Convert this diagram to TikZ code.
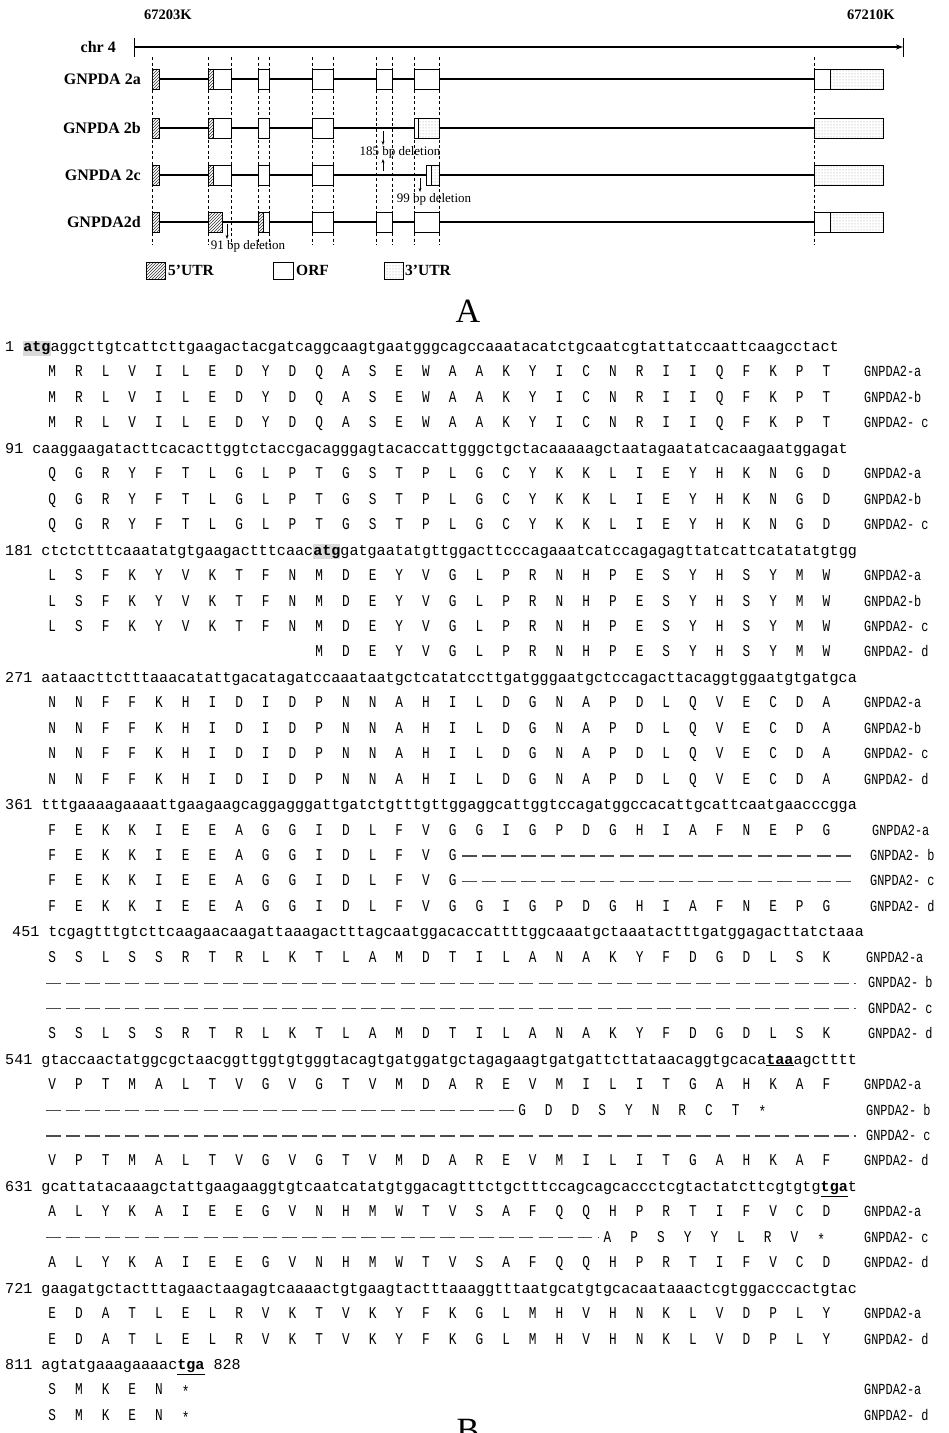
\documentclass[tikz,border=0pt]{standalone}
\usepackage{fontspec}
\setmainfont{Liberation Serif}
\newfontfamily\seqfont{Liberation Mono}
\usetikzlibrary{arrows.meta,patterns}

% grid of the amino acid columns (pt = px)
\newcommand\aapitch{26.7}
\newcommand\aazero{52}
\makeatletter
\newcommand\aastring[1]{\@tfor\aachar:=#1\do{\makebox[26.7pt]{\scalebox{0.85}[1.1]{\aachar}}}}
\makeatother
\newcommand\aastop{\raisebox{-2.5pt}{*}}
\newcommand\starthl[1]{{\setlength\fboxsep{0pt}\colorbox{gray!30}{\rule[-4pt]{0pt}{15pt}\textbf{#1}}}}
\newcommand\stopcod[1]{\underline{\textbf{#1}}}

% rows of panel B
\newcommand\ntline[4]{\node[seqline] (#1) at (#2,{351.5+25.45*#3}) {#4};}
\newcommand\aapart[4]{\node[aaline] (#1) at ({\aazero-\aapitch/2+(#3-1)*\aapitch},{351.5+25.45*#2}) {\aastring{#4}};}
\newcommand\isolabel[4]{\node[isolab] (#1) at (#4,{351.5+25.45*#2}) {\scalebox{0.85}[1.1]{#3}};}
\newcommand\aarow[6]{\aapart{#1}{#2}{#3}{#4}\isolabel{#1-lab}{#2}{#5}{#6}}
\newcommand\gaprow[6]{%
  \coordinate (#1-s) at (#3,{347+25.45*#2});
  \coordinate (#1-e) at (#4,{347+25.45*#2});
  \draw[gapline] (#1-s) -- (#1-e);
  \isolabel{#1-lab}{#2}{#5}{#6}}
% boxes of panel A
\newcommand\exbox[4]{\draw[#4] (#1,{#3-10}) rectangle (#2,{#3+10});}

\tikzset{
  seqline/.style={anchor=base west,inner sep=0pt,font=\seqfont\fontsize{15.1}{18}\selectfont},
  aaline/.style={anchor=base west,inner sep=0pt,font=\seqfont\fontsize{15}{18}\selectfont},
  isolab/.style={anchor=base west,inner sep=0pt,font=\seqfont\fontsize{14}{16}\selectfont},
  gapline/.style={line width=1.3pt,black!70,dash pattern=on 14.5pt off 5.2pt},
  genelab/.style={anchor=east,inner sep=0pt,font=\bfseries\fontsize{16}{18}\selectfont},
  toplab/.style={inner sep=0pt,font=\bfseries\fontsize{14.5}{17}\selectfont},
  dellab/.style={inner sep=1pt,font=\fontsize{13}{15}\selectfont},
  leglab/.style={anchor=west,inner sep=0pt,font=\bfseries\fontsize{15.5}{18}\selectfont},
  panlab/.style={inner sep=0pt,font=\fontsize{34}{36}\selectfont},
  orfbox/.style={draw,fill=white,line width=0.6pt},
  utrfive/.style={draw,line width=0.6pt,preaction={fill=white},pattern=north east lines,pattern color=black!80},
  utrthree/.style={draw,line width=0.6pt,preaction={fill=white},pattern=dots,pattern color=gray!80},
  intron/.style={line width=2.2pt},
  guide/.style={line width=0.4pt,dash pattern=on 3pt off 2.5pt},
  chrline/.style={line width=1.4pt,-{Stealth[length=7pt,width=5pt]}},
  delarr/.style={line width=0.6pt,-{Stealth[length=4pt,width=3pt]}}
}

\begin{document}
\begin{tikzpicture}[x=1pt,y=-1pt]
\path[use as bounding box,fill=white] (0,0) rectangle (949,1433);

% ---- panel A: gene structure
\node[toplab] (k203) at (168,15) {67203K};
\node[toplab] (k210) at (871,15) {67210K};
\node[genelab] (chr) at (116,47) {chr 4};
\coordinate (chrs) at (134,47);
\coordinate (chre) at (903,47);
\draw[chrline] (chrs) -- (chre);
\draw[line width=1pt] (134,38) -- (134,57);
\draw[line width=1pt] (903,38) -- (903,57);

\foreach \gx in {152,208,231,258.5,269,312,333,376,392,414,439,814}
  \draw[guide] (\gx,57) -- (\gx,245);

\node[genelab] (isoa) at (141,79) {GNPDA 2a};
\node[genelab] (isob) at (141,128) {GNPDA 2b};
\node[genelab] (isoc) at (141,175) {GNPDA 2c};
\node[genelab] (isod) at (141,222) {GNPDA2d};

\foreach \ry in {79,128,175,222} {
  \draw[intron] (159,\ry) -- (814,\ry);
  \exbox{152}{159}{\ry}{utrfive}
  \exbox{312}{333}{\ry}{orfbox}
}
\foreach \ry in {79,128,175} {
  \exbox{208}{213}{\ry}{utrfive}
  \exbox{213}{231}{\ry}{orfbox}
  \exbox{258.5}{269}{\ry}{orfbox}
}
% GNPDA 2a
\exbox{376}{392}{79}{orfbox}
\exbox{414}{439}{79}{orfbox}
\exbox{814}{830}{79}{orfbox}
\exbox{830}{883}{79}{utrthree}
% GNPDA 2b
\exbox{414}{418}{128}{orfbox}
\exbox{418}{439}{128}{utrthree}
\exbox{814}{883}{128}{utrthree}
% GNPDA 2c
\exbox{426}{431}{175}{orfbox}
\exbox{431}{439}{175}{utrthree}
\exbox{814}{883}{175}{utrthree}
% GNPDA2d
\exbox{208}{222}{222}{utrfive}
\exbox{258.5}{263}{222}{utrfive}
\exbox{263}{269}{222}{orfbox}
\exbox{376}{392}{222}{orfbox}
\exbox{414}{439}{222}{orfbox}
\exbox{814}{830}{222}{orfbox}
\exbox{830}{883}{222}{utrthree}

% deletions
\node[dellab] (del185) at (400,152) {185 bp deletion};
\node[dellab] (del99) at (434,199) {99 bp deletion};
\node[dellab] (del91) at (248,246) {91 bp deletion};
\coordinate (cut185) at (383,131);
\coordinate (cut185c) at (383,171);
\coordinate (cut99) at (420,178);
\coordinate (cut91) at (227,224);
\draw[delarr] (cut185) -- (cut185 |- del185.north);
\draw[delarr] (cut185c) -- (cut185c |- del185.south);
\draw[delarr] (cut99) -- (cut99 |- del99.north);
\draw[delarr] (cut91) -- (cut91 |- del91.north);

% legend
\draw[utrfive] (146,262) rectangle (165,279);
\node[leglab] (leg5) at (168,270) {5’UTR};
\draw[orfbox] (273,262) rectangle (293,279);
\node[leglab] (legorf) at (296,270) {ORF};
\draw[utrthree] (384,262) rectangle (403,279);
\node[leglab] (leg3) at (405,270) {3’UTR};

\node[panlab] (panA) at (468,311) {A};

% ---- panel B: sequence and translations
\ntline{nt1}{5}{0}{1 \starthl{atg}aggcttgtcattcttgaagactacgatcaggcaagtgaatgggcagccaaatacatctgcaatcgtattatccaattcaagcctact}
\aarow{aa1a}{1}{1}{MRLVILEDYDQASEWAAKYICNRIIQFKPT}{GNPDA2-a}{864}
\aarow{aa1b}{2}{1}{MRLVILEDYDQASEWAAKYICNRIIQFKPT}{GNPDA2-b}{864}
\aarow{aa1c}{3}{1}{MRLVILEDYDQASEWAAKYICNRIIQFKPT}{GNPDA2- c}{864}

\ntline{nt91}{5}{4}{91 caaggaagatacttcacacttggtctaccgacagggagtacaccattgggctgctacaaaaagctaatagaatatcacaagaatggagat}
\aarow{aa2a}{5}{1}{QGRYFTLGLPTGSTPLGCYKKLIEYHKNGD}{GNPDA2-a}{864}
\aarow{aa2b}{6}{1}{QGRYFTLGLPTGSTPLGCYKKLIEYHKNGD}{GNPDA2-b}{864}
\aarow{aa2c}{7}{1}{QGRYFTLGLPTGSTPLGCYKKLIEYHKNGD}{GNPDA2- c}{864}

\ntline{nt181}{5}{8}{181 ctctctttcaaatatgtgaagactttcaac\starthl{atg}gatgaatatgttggacttcccagaaatcatccagagagttatcattcatatatgtgg}
\aarow{aa3a}{9}{1}{LSFKYVKTFNMDEYVGLPRNHPESYHSYMW}{GNPDA2-a}{864}
\aarow{aa3b}{10}{1}{LSFKYVKTFNMDEYVGLPRNHPESYHSYMW}{GNPDA2-b}{864}
\aarow{aa3c}{11}{1}{LSFKYVKTFNMDEYVGLPRNHPESYHSYMW}{GNPDA2- c}{864}
\aarow{aa3d}{12}{11}{MDEYVGLPRNHPESYHSYMW}{GNPDA2- d}{864}

\ntline{nt271}{5}{13}{271 aataacttctttaaacatattgacatagatccaaataatgctcatatccttgatgggaatgctccagacttacaggtggaatgtgatgca}
\aarow{aa4a}{14}{1}{NNFFKHIDIDPNNAHILDGNAPDLQVECDA}{GNPDA2-a}{864}
\aarow{aa4b}{15}{1}{NNFFKHIDIDPNNAHILDGNAPDLQVECDA}{GNPDA2-b}{864}
\aarow{aa4c}{16}{1}{NNFFKHIDIDPNNAHILDGNAPDLQVECDA}{GNPDA2- c}{864}
\aarow{aa4d}{17}{1}{NNFFKHIDIDPNNAHILDGNAPDLQVECDA}{GNPDA2- d}{864}

\ntline{nt361}{5}{18}{361 tttgaaaagaaaattgaagaagcaggagggattgatctgtttgttggaggcattggtccagatggccacattgcattcaatgaacccgga}
\aarow{aa5a}{19}{1}{FEKKIEEAGGIDLFVGGIGPDGHIAFNEPG}{GNPDA2-a}{872}
\aapart{aa5b}{20}{1}{FEKKIEEAGGIDLFVG}
\gaprow{gap5b}{20}{462}{855}{GNPDA2- b}{870}
\aapart{aa5c}{21}{1}{FEKKIEEAGGIDLFVG}
\gaprow{gap5c}{21}{462}{855}{GNPDA2- c}{870}
\aarow{aa5d}{22}{1}{FEKKIEEAGGIDLFVGGIGPDGHIAFNEPG}{GNPDA2- d}{870}

\ntline{nt451}{12}{23}{451 tcgagtttgtcttcaagaacaagattaaagactttagcaatggacaccattttggcaaatgctaaatactttgatggagacttatctaaa}
\aarow{aa6a}{24}{1}{SSLSSRTRLKTLAMDTILANAKYFDGDLSK}{GNPDA2-a}{866}
\gaprow{gap6b}{25}{46}{856}{GNPDA2- b}{868}
\gaprow{gap6c}{26}{46}{856}{GNPDA2- c}{868}
\aarow{aa6d}{27}{1}{SSLSSRTRLKTLAMDTILANAKYFDGDLSK}{GNPDA2- d}{868}

\ntline{nt541}{5}{28}{541 gtaccaactatggcgctaacggttggtgtgggtacagtgatggatgctagagaagtgatgattcttataacaggtgcaca\stopcod{taa}agctttt}
\aarow{aa7a}{29}{1}{VPTMALTVGVGTVMDAREVMILITGAHKAF}{GNPDA2-a}{864}
\gaprow{gap7b}{30}{46}{514}{GNPDA2- b}{866}
\aapart{aa7b}{30}{18.6}{GDDSYNRCT\aastop}
\gaprow{gap7c}{31}{46}{856}{GNPDA2- c}{866}
\aarow{aa7d}{32}{1}{VPTMALTVGVGTVMDAREVMILITGAHKAF}{GNPDA2- d}{864}

\ntline{nt631}{5}{33}{631 gcattatacaaagctattgaagaaggtgtcaatcatatgtggacagtttctgctttccagcagcaccctcgtactatcttcgtgtg\stopcod{tga}t}
\aarow{aa8a}{34}{1}{ALYKAIEEGVNHMWTVSAFQQHPRTIFVCD}{GNPDA2-a}{864}
\gaprow{gap8c}{35}{46}{598}{GNPDA2- c}{864}
\aapart{aa8c}{35}{21.8}{APSYYLRV\aastop}
\aarow{aa8d}{36}{1}{ALYKAIEEGVNHMWTVSAFQQHPRTIFVCD}{GNPDA2- d}{864}

\ntline{nt721}{5}{37}{721 gaagatgctactttagaactaagagtcaaaactgtgaagtactttaaaggtttaatgcatgtgcacaataaactcgtggacccactgtac}
\aarow{aa9a}{38}{1}{EDATLELRVKTVKYFKGLMHVHNKLVDPLY}{GNPDA2-a}{864}
\aarow{aa9d}{39}{1}{EDATLELRVKTVKYFKGLMHVHNKLVDPLY}{GNPDA2- d}{864}

\ntline{nt811}{5}{40}{811 agtatgaaagaaaac\stopcod{tga} 828}
\aarow{aa10a}{41}{1}{SMKEN\aastop}{GNPDA2-a}{864}
\aarow{aa10d}{42}{1}{SMKEN\aastop}{GNPDA2- d}{864}

\node[panlab,anchor=north] (panB) at (468,1419) {B};
\end{tikzpicture}
\end{document}
